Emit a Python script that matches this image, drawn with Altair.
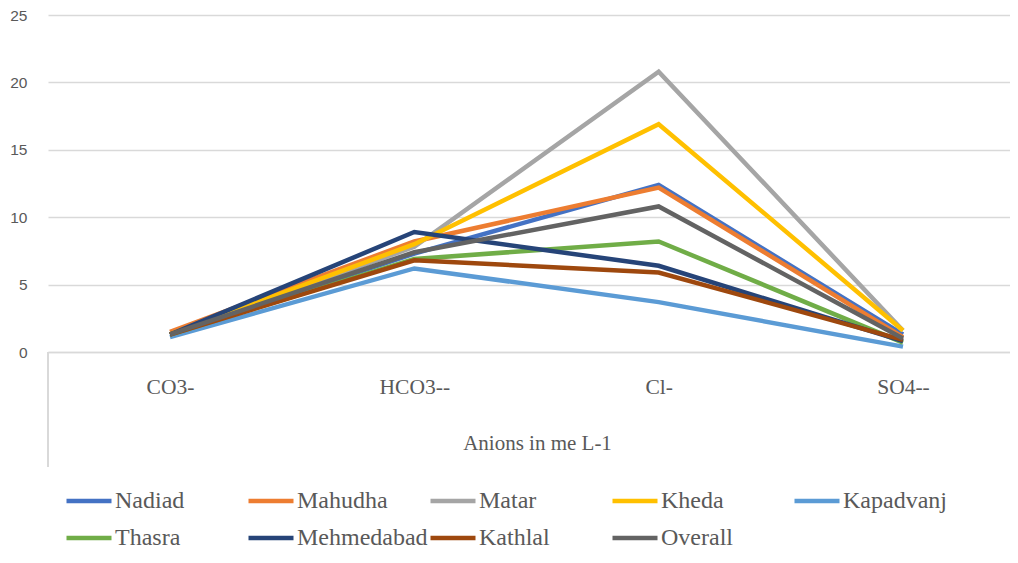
import altair as alt
import pandas as pd

anions = ["CO3-", "HCO3--", "Cl-", "SO4--"]
series = ["Nadiad", "Mahudha", "Matar", "Kheda", "Kapadvanj",
          "Thasra", "Mehmedabad", "Kathlal", "Overall"]
colors = ["#4472C4", "#ED7D31", "#A5A5A5", "#FFC000", "#5B9BD5",
          "#70AD47", "#264478", "#9E480E", "#636363"]

nadiad = [1.3, 7.3, 12.4, 1.3]
mahudha = [1.5, 8.2, 12.2, 1.1]
matar = [1.3, 7.8, 20.8, 1.6]
kheda = [1.3, 8.0, 16.9, 1.6]
kapadvanj = [1.1, 6.2, 3.7, 0.4]
thasra = [1.3, 6.9, 8.2, 0.7]
mehmedabad = [1.3, 8.9, 6.4, 0.8]
kathlal = [1.3, 6.8, 5.9, 0.9]
overall = [1.3, 7.4, 10.8, 1.0]

values = [nadiad, mahudha, matar, kheda, kapadvanj,
          thasra, mehmedabad, kathlal, overall]

rows = []
for name, vals in zip(series, values):
    for i, (a, v) in enumerate(zip(anions, vals)):
        rows.append({"Idx": i, "Anion": a, "Site": name, "Value": v})
df = pd.DataFrame(rows)

W, H = 962, 337

label_expr = "[" + ",".join("'" + a + "'" for a in anions) + "][datum.value]"

lines = alt.Chart(df).mark_line(strokeWidth=4.5).encode(
    x=alt.X("Idx:Q",
            scale=alt.Scale(domain=[-0.4993, 3.438], nice=False, zero=False),
            axis=alt.Axis(title="Anions in me L-1", values=[0, 1, 2, 3],
                          labelExpr=label_expr,
                          ticks=False, grid=False,
                          domainColor="#d9d9d9", domainWidth=1.3,
                          labelFont="Liberation Serif", labelFontSize=21.5,
                          labelColor="#595959", labelPadding=24,
                          titleFont="Liberation Serif", titleFontSize=21,
                          titleFontWeight="normal", titleColor="#595959",
                          titleX=489, titleY=97,
                          titleBaseline="alphabetic")),
    y=alt.Y("Value:Q",
            scale=alt.Scale(domain=[0, 25], nice=False),
            axis=alt.Axis(title=None, values=[0, 5, 10, 15, 20, 25],
                          ticks=False, domain=False,
                          gridColor="#d9d9d9", gridWidth=1.3,
                          labelFont="Liberation Sans", labelFontSize=15.5,
                          labelColor="#595959", labelPadding=21)),
    color=alt.Color("Site:N", sort=series,
                    scale=alt.Scale(domain=series, range=colors),
                    legend=alt.Legend(title=None, orient="none",
                                      legendX=16, legendY=461,
                                      direction="horizontal", columns=5,
                                      gridAlign="all",
                                      symbolType="stroke", symbolSize=2025,
                                      symbolStrokeWidth=4.5,
                                      labelFont="Liberation Serif",
                                      labelFontWeight="normal",
                                      labelFontSize=24, labelColor="#595959",
                                      labelOffset=1, labelLimit=300,
                                      columnPadding=-7, rowPadding=-6)),
)

edge = alt.Chart(df).mark_rule(color="#d9d9d9", strokeWidth=1.3).encode(
    x=alt.value(0), y=alt.value(H), y2=alt.value(H + 115)
)

chart = alt.layer(edge, lines).properties(
    width=W, height=H,
    padding={"left": 40, "top": 7, "right": 0, "bottom": 203},
    autosize=alt.AutoSizeParams(type="none"),
).configure(background="white", font="Liberation Serif").configure_view(
    stroke=None
)

chart.save("out.html", embed_options={"renderer": "svg", "actions": False})
